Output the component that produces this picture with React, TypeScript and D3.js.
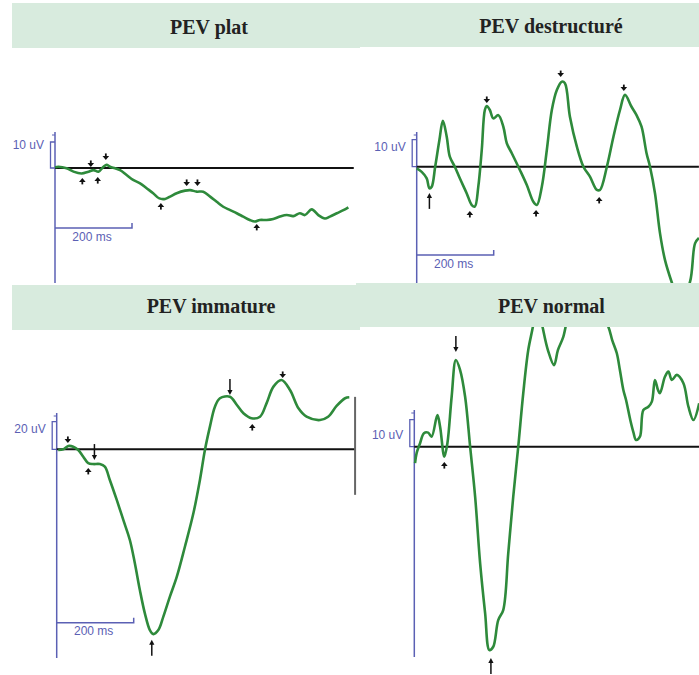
import React from "react";
import * as d3 from "d3";

// ---------- DATA (time in ms, amplitude in uV) ----------
const titles = ["PEV plat", "PEV destructuré", "PEV immature", "PEV normal"];
const ampLabels = ["10 uV", "10 uV", "20 uV", "10 uV"];
const ampScaleValues = [10, 10, 20, 10];
const timeLabel = "200 ms";
const timeScaleValue = 200;

const platTrace: [number, number][] = [
  [0, 0.3], [9, 0.5], [30, -0.1], [48, -1.4], [69, -2.1], [87, -1.4], [100, -0.8], [113, -1.4],
  [126, 0.5], [134, 1.2], [143, 0.5], [156, -0.1], [169, -0.8], [186, -2.7], [203, -4.6],
  [221, -5.9], [238, -7.8], [255, -9.7], [271, -11.7], [286, -11.9], [299, -11.0], [316, -9.7],
  [338, -8.7], [351, -8.5], [368, -9.1], [385, -9.1], [403, -11.0], [420, -13.0], [437, -14.9],
  [455, -16.2], [472, -17.4], [489, -18.7], [506, -20.0], [519, -20.6], [532, -20.0], [550, -20.0],
  [567, -19.6], [584, -18.7], [602, -18.1], [619, -18.5], [636, -17.4], [649, -18.1], [667, -15.9],
  [684, -18.1], [701, -19.4], [714, -18.7], [732, -17.4], [749, -16.2], [762, -15.1],
];

const destructTrace: [number, number][] = [
  [0, -0.6], [13, -1.9], [26, -4.3], [33, -8.0], [39, -7.4], [48, 0], [59, 9.9], [68, 17.0],
  [78, 11.1], [86, 3.7], [99, 0], [112, -4.3], [130, -9.9], [143, -14.2], [151, -14.8],
  [160, -7.4], [169, 6.2], [177, 21.0], [182, 22.5], [190, 21.0], [199, 17.9], [212, 19.1],
  [225, 14.8], [234, 8.7], [247, 5.0], [268, -1.2], [286, -6.8], [303, -13.0], [312, -14.2],
  [325, -7.4], [338, 6.2], [351, 21.0], [364, 28.4], [377, 31.5], [385, 30.9], [398, 18.5],
  [416, 7.4], [433, 0], [450, -3.7], [468, -8.6], [476, -8.6], [494, 0], [511, 11.1], [528, 21.0],
  [541, 26.6], [558, 22.2], [571, 19.1], [584, 14.8], [597, 5.0], [606, 0], [619, -9.9],
  [632, -24.7], [645, -34.6], [662, -42.6], [684, -51.0], [710, -42.6], [723, -28.4], [733, -26.4],
];

const immatureTrace: [number, number][] = [
  [4, -0.5], [17, 0], [30, 2.4], [43, 1.9], [56, -0.5], [69, -5.4], [82, -10.1], [95, -10.7],
  [112, -10.7], [125, -12.6], [138, -22.2], [156, -36.7], [173, -51.2], [190, -65.7], [203, -82.6],
  [216, -102], [229, -118.9], [242, -131], [251, -133.9], [264, -131], [277, -121.3], [294, -106.8],
  [312, -92.3], [333, -70.6], [355, -46.4], [372, -22.2], [385, -0.5], [398, 16.4], [411, 30.9],
  [424, 37.0], [450, 38.1], [468, 32.1], [485, 26.1], [506, 22.5], [528, 23.6], [545, 33.3],
  [563, 45.4], [584, 50.2], [606, 43.0], [628, 29.7], [649, 23.6], [684, 21.2], [705, 23.6],
  [727, 31.4], [749, 37.0], [760, 37.7],
];

const normalTrace: [number, number][] = [
  [2, -6.1], [6, -2.4], [15, 1.3], [25, 5.0], [36, 5.2], [45, 3.7], [60, 11.7], [67, 7.4],
  [78, -3.7], [86, 1.3], [97, 18.5], [108, 32.1], [119, 28.4], [132, 18.5], [145, 0], [158, -18.5],
  [171, -43.2], [184, -61.7], [195, -75.3], [205, -74.1], [218, -64.2], [231, -60.5], [244, -39.5],
  [257, -18.5], [270, 0], [283, 19.8], [296, 35.8], [308, 44.4], [319, 54], [333, 44.4], [347, 35.8],
  [363, 30.2], [373, 35.8], [387, 40.7], [404, 50.6], [430, 56], [469, 54], [504, 44.4], [514, 39.5],
  [526, 34.6], [534, 28.4], [543, 21], [550, 17.3], [561, 9.9], [569, 5.4], [576, 2.5], [586, 3.7],
  [595, 13.6], [608, 14.8], [617, 16.7], [625, 24.7], [633, 21], [638, 19.8], [651, 25.9],
  [660, 27.8], [669, 24.7], [682, 26.6], [699, 23.5], [712, 14.8], [725, 9.9], [740, 16.1],
];

// arrow markers: [time ms, tip amplitude uV, direction (1 = down, -1 = up), long (1) or short (0)]
const platArrows: [number, number, number, number][] = [
  [93, 0.4, 1, 0], [132, 3.1, 1, 0], [342, -6.9, 1, 0], [370, -6.9, 1, 0],
  [71, -3.8, -1, 0], [111, -3.5, -1, 0], [275, -13.5, -1, 0], [524, -21.5, -1, 0],
];
const destructArrows: [number, number, number, number][] = [
  [33, -9.7, -1, 1], [138, -16.4, -1, 0], [310, -16.0, -1, 0], [474, -11.2, -1, 0],
  [182, 23.6, 1, 0], [374, 33.2, 1, 0], [538, 28.0, 1, 0],
];
const immatureArrows: [number, number, number, number][] = [
  [29, 4.6, 1, 0], [98, -7.8, 1, 1], [82, -13.5, -1, 0], [247, -138, -1, 1],
  [450, 39.4, 1, 1], [508, 18.3, -1, 0], [587, 51.7, 1, 0],
];
const normalArrows: [number, number, number, number][] = [
  [108, 35.1, 1, 1], [78, -5.7, -1, 0], [199, -78.3, -1, 1],
];

const traces = [platTrace, destructTrace, immatureTrace, normalTrace];
const arrows = [platArrows, destructArrows, immatureArrows, normalArrows];
const baselineEnds = [776, 733, 775, 740];

// ---------- LAYOUT ----------
type Layout = {
  x0: number; base: number; ampPx: number; axTop: number; axBot: number;
  barY: number | null; labelY: number; titleX: number; titleY: number;
  clip: [number, number, number, number]; band: [number, number, number, number];
  endMarker: boolean;
};
const layouts: Layout[] = [
  { x0: 55, base: 168, ampPx: 26, axTop: 132, axBot: 283, barY: 228, labelY: 149, titleX: 209, titleY: 34,
    clip: [0, 50, 358, 235], band: [12, 3, 348, 45], endMarker: false },
  { x0: 416.7, base: 166.7, ampPx: 27, axTop: 132, axBot: 283, barY: 255, labelY: 150.5, titleX: 551, titleY: 33,
    clip: [358, 48, 341, 235], band: [358, 3, 341, 44], endMarker: false },
  { x0: 56.7, base: 449.3, ampPx: 27.6, axTop: 413, axBot: 658, barY: 622.7, labelY: 432.5, titleX: 211, titleY: 313,
    clip: [0, 330, 358, 345], band: [12, 285, 348, 45], endMarker: true },
  { x0: 414.3, base: 446.7, ampPx: 27, axTop: 410, axBot: 657, barY: null, labelY: 439, titleX: 551.5, titleY: 313,
    clip: [358, 327, 341, 348], band: [356, 283, 343, 44], endMarker: false },
];

const GREEN = "#2e8a3b";
const BLUE = "#5b60b4";
const BAND = "#d8ebde";

function Panel({ i }: { i: number }) {
  const L = layouts[i];
  const x = d3.scaleLinear().domain([0, timeScaleValue]).range([L.x0, L.x0 + 77]);
  const y = d3.scaleLinear().domain([0, ampScaleValues[i]]).range([L.base, L.base - L.ampPx]);
  const line = d3.line<[number, number]>().x((d) => x(d[0])).y((d) => y(d[1])).curve(d3.curveCatmullRom.alpha(0.5));
  const bracketTop = y(ampScaleValues[i]);
  const c = L.clip;
  return (
    <g>
      <defs>
        <clipPath id={`clip${i}`}>
          <rect x={c[0]} y={c[1]} width={c[2]} height={c[3]} />
        </clipPath>
      </defs>
      {/* axis */}
      <line x1={L.x0} x2={L.x0} y1={L.axTop} y2={L.axBot} stroke={BLUE} strokeWidth={1.5} />
      <line x1={L.x0 - 3} x2={L.x0} y1={L.axTop + 3} y2={L.axTop + 3} stroke={BLUE} strokeWidth={1} />
      <path d={`M${L.x0},${bracketTop} H${L.x0 - 4.5} V${L.base} H${L.x0}`} fill="none" stroke={BLUE} strokeWidth={1.3} />
      <text x={L.x0 - 11} y={L.labelY} textAnchor="end" fontFamily="Liberation Sans, Arial, sans-serif" fontSize={12} fill={BLUE}>
        {ampLabels[i]}
      </text>
      {L.barY !== null && (
        <g>
          <path d={`M${L.x0},${L.barY} H${x(timeScaleValue)} V${L.barY - 5}`} fill="none" stroke={BLUE} strokeWidth={1.5} />
          <text x={L.x0 + 37} y={L.barY + 12.5} textAnchor="middle" fontFamily="Liberation Sans, Arial, sans-serif" fontSize={12} fill={BLUE}>
            {timeLabel}
          </text>
        </g>
      )}
      {/* baseline */}
      <line x1={L.x0} x2={x(baselineEnds[i])} y1={L.base} y2={L.base} stroke="#111" strokeWidth={2} />
      {L.endMarker && (
        <line x1={x(baselineEnds[i])} x2={x(baselineEnds[i])} y1={y(38)} y2={y(-33)} stroke="#666" strokeWidth={2} />
      )}
      {/* trace */}
      <g clipPath={`url(#clip${i})`}>
        <path d={line(traces[i]) || ""} fill="none" stroke={GREEN} strokeWidth={2.6} strokeLinejoin="round" />
      </g>
      {/* arrows */}
      {arrows[i].map((a, k) => {
        const ax = x(a[0]);
        const ty = y(a[1]);
        const dir = a[2];
        const len = a[3] ? 16 : 6.5;
        const head = a[3] ? 5 : 4;
        const hw = a[3] ? 2.6 : 3.3;
        const tail = ty - dir * len;
        return (
          <g key={k}>
            <line x1={ax} x2={ax} y1={tail} y2={ty - dir * head * 0.6} stroke="#111" strokeWidth={a[3] ? 1.5 : 1.8} />
            <path d={`M${ax},${ty} L${ax - hw},${ty - dir * head} L${ax + hw},${ty - dir * head} Z`} fill="#111" />
          </g>
        );
      })}
    </g>
  );
}

export default function App() {
  return (
    <svg width={699} height={675} style={{ position: "absolute", left: 0, top: 0, background: "#fff" }}>
      <rect x={0} y={0} width={699} height={675} fill="#fff" />
      {layouts.map((_, i) => (
        <Panel key={i} i={i} />
      ))}
      {layouts.map((L, i) => (
        <g key={`b${i}`}>
          <rect x={L.band[0]} y={L.band[1]} width={L.band[2]} height={L.band[3]} fill={BAND} />
          <text x={L.titleX} y={L.titleY} textAnchor="middle" fontFamily="Liberation Serif, Times New Roman, serif" fontWeight="bold" fontSize={20} fill="#222">
            {titles[i]}
          </text>
        </g>
      ))}
    </svg>
  );
}
